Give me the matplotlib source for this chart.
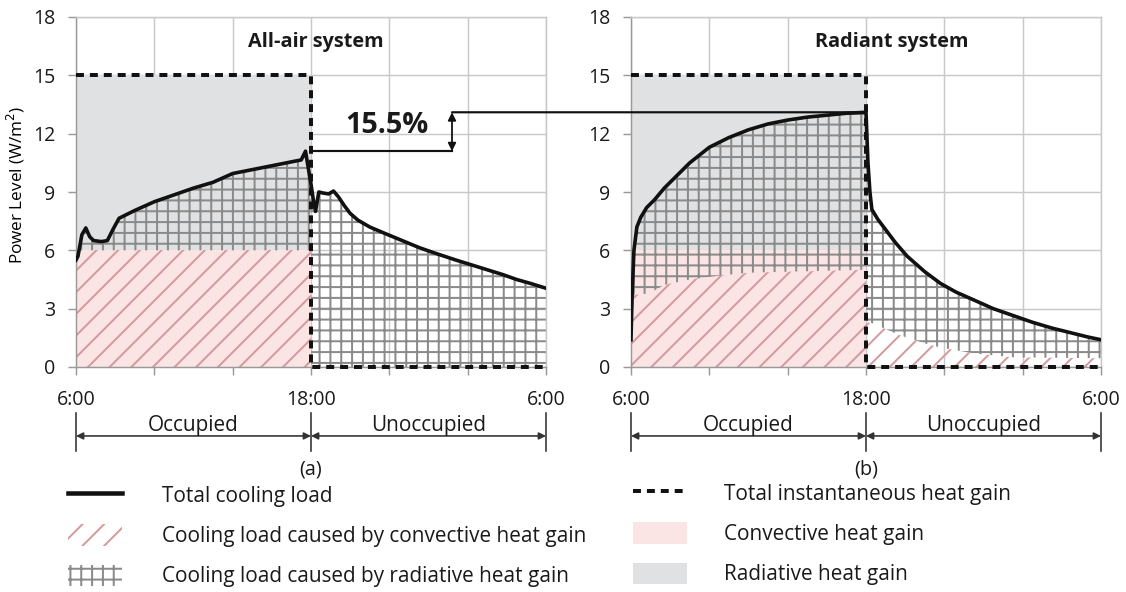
import numpy as np
import matplotlib
matplotlib.use('Agg')
import matplotlib.pyplot as plt
from matplotlib.patches import Patch, ConnectionPatch
from matplotlib.lines import Line2D

plt.rcParams['font.family'] = ['Open Sans', 'DejaVu Sans']
plt.rcParams['hatch.linewidth'] = 1.1
plt.rcParams['text.color'] = '#1a1a1a'

# hours, 6:00 -> 6:00 next day (30)
gain_h = [6, 18, 18, 30]
gain_total = [15, 15, 0, 0]
gain_conv = [6, 6, 0, 0]

# all-air system: total cooling load
air_occ_h = [6.0, 6.1, 6.3, 6.5, 6.7, 6.9, 7.3, 7.6, 7.9, 8.2, 9.0, 10.0, 11.0,
             12.0, 13.0, 14.0, 15.0, 16.0, 17.0, 17.5, 17.72, 17.85, 18.0]
air_occ_load = [5.5, 5.7, 6.8, 7.15, 6.7, 6.5, 6.45, 6.5, 7.1, 7.65, 8.05, 8.5,
                8.85, 9.2, 9.5, 9.95, 10.15, 10.35, 10.55, 10.65, 11.1, 10.3, 9.4]
air_un_h = [18.0, 18.12, 18.23, 18.4, 18.6, 18.9, 19.15, 19.4, 19.7, 20.0, 20.4,
            21.0, 21.7, 22.3, 22.9, 23.5, 24.2, 24.8, 25.4, 26.2, 27.0, 27.8,
            28.5, 29.2, 30.0]
air_un_load = [9.4, 8.6, 8.0, 9.0, 8.95, 8.9, 9.05, 8.75, 8.3, 7.9, 7.55, 7.2,
               6.9, 6.65, 6.4, 6.15, 5.9, 5.7, 5.5, 5.25, 5.0, 4.75, 4.5, 4.3, 4.05]
# all-air: cooling load from convective gain
air_conv_occ_h = [6, 18]
air_conv_occ = [6, 6]
air_conv_un_h = [18, 30]
air_conv_un = [0, 0]

# radiant system: total cooling load
rad_occ_h = [6.0, 6.05, 6.15, 6.3, 6.5, 6.8, 7.2, 7.7, 8.3, 9.0, 10.0, 11.0,
             12.0, 13.0, 14.0, 15.0, 16.0, 17.0, 18.0]
rad_occ_load = [1.4, 3.5, 6.0, 7.2, 7.7, 8.2, 8.6, 9.2, 9.8, 10.5, 11.3, 11.8,
                12.2, 12.5, 12.7, 12.85, 12.95, 13.05, 13.1]
rad_un_h = [18.0, 18.1, 18.2, 18.3, 18.6, 18.9, 19.5, 20.1, 21.0, 21.8, 22.6,
            23.5, 24.5, 25.5, 26.5, 27.5, 28.5, 29.3, 30.0]
rad_un_load = [13.1, 10.5, 9.0, 8.1, 7.6, 7.2, 6.4, 5.7, 4.9, 4.3, 3.85, 3.45,
               3.0, 2.65, 2.3, 2.0, 1.75, 1.55, 1.4]
# radiant: cooling load from convective gain
rad_conv_occ_h = [6.0, 6.05, 6.15, 7.0, 7.6, 9.0, 10.5, 12.0, 14.0, 18.0]
rad_conv_occ = [1.0, 2.0, 3.7, 3.8, 4.2, 4.5, 4.7, 4.85, 4.9, 5.0]
rad_conv_un_h = [18.0, 18.35, 19.0, 19.7, 20.5, 21.8, 23.5, 25.5, 30.0]
rad_conv_un = [2.3, 2.25, 1.95, 1.65, 1.35, 1.0, 0.7, 0.5, 0.45]

xticks = [6, 10, 14, 18, 22, 26, 30]
xlabels = ['6:00', '', '', '18:00', '', '', '6:00']
yticks = [0, 3, 6, 9, 12, 15, 18]
peak_label = '15.5%'

pink = '#fbe4e4'
pink_hatch = '#d49a9e'
gray = '#e0e1e2'
grid_hatch = '#8a8a8a'
dash = (0, (2, 1.5))

fig = plt.figure(figsize=(1126 / 130, 592 / 130), dpi=130)
ax1 = fig.add_axes([76 / 1126, 225 / 592, 470 / 1126, 350 / 592])
ax2 = fig.add_axes([631 / 1126, 225 / 592, 470 / 1126, 350 / 592])


def draw(ax, occ_h, occ_load, un_h, un_load, c_occ_h, c_occ, c_un_h, c_un,
         title, title_x, letter):
    ax.set_xlim(6, 30)
    ax.set_ylim(0, 18)
    ax.set_xticks(xticks)
    ax.set_xticklabels(xlabels)
    ax.set_yticks(yticks)
    ax.grid(color='#c9c9c9', lw=0.8, zorder=0)
    ax.set_axisbelow(True)
    for s in ax.spines.values():
        s.set_color('#c9c9c9')
    ax.spines['left'].set_color('#999999')
    ax.spines['bottom'].set_color('#999999')
    ax.tick_params(colors='#999999', labelcolor='#1a1a1a', labelsize=10.8,
                   length=4.5, width=0.8)
    ax.tick_params(axis='x', pad=8)
    ax.tick_params(axis='y', pad=7)

    ax.fill_between(gain_h, 0, gain_conv, color=pink, lw=0, zorder=1)
    ax.fill_between(gain_h, gain_conv, gain_total, color=gray, lw=0, zorder=1)

    # convective part of cooling load
    ax.fill_between(c_occ_h, 0, c_occ, facecolor='none', edgecolor=pink_hatch,
                    hatch='//', lw=0, zorder=2)
    ax.fill_between(c_un_h, 0, c_un, facecolor='none', edgecolor=pink_hatch,
                    hatch='//', lw=0, zorder=2)
    # radiative part of cooling load
    for hh, ld, ch, cv in [(occ_h, occ_load, c_occ_h, c_occ),
                           (un_h, un_load, c_un_h, c_un)]:
        base = np.interp(hh, ch, cv)
        ax.fill_between(hh, base, np.maximum(ld, base), facecolor='none',
                        edgecolor=grid_hatch, hatch='++', lw=0, zorder=2)

    ax.plot(occ_h + un_h[1:], occ_load + un_load[1:], color='#111111', lw=2,
            zorder=4)
    ax.plot(gain_h, gain_total, color='#111111', lw=2.2, ls=dash, zorder=5,
            clip_on=False)

    ax.text(title_x, 16.7, title, fontsize=11, fontweight='bold',
            ha='center', va='center')

    # occupied / unoccupied brackets
    tr = ax.get_xaxis_transform()
    for x in [6, 18, 30]:
        ax.plot([x, x], [-0.13, -0.24], color='#333333', lw=0.9,
                transform=tr, clip_on=False)
    for a, b, lab in [(6, 18, 'Occupied'), (18, 30, 'Unoccupied')]:
        ax.annotate('', xy=(a, -0.197), xytext=(b, -0.197), xycoords=tr,
                    textcoords=tr,
                    arrowprops=dict(arrowstyle='<|-|>', color='#333333',
                                    lw=0.9, shrinkA=0, shrinkB=0,
                                    mutation_scale=8))
        ax.text((a + b) / 2, -0.166, lab, transform=tr, ha='center',
                va='center', fontsize=11.5)
    ax.text(18, -0.293, letter, transform=tr, ha='center', va='center',
            fontsize=11)


draw(ax1, air_occ_h, air_occ_load, air_un_h, air_un_load, air_conv_occ_h,
     air_conv_occ, air_conv_un_h, air_conv_un, 'All-air system', 18.25, '(a)')
draw(ax2, rad_occ_h, rad_occ_load, rad_un_h, rad_un_load, rad_conv_occ_h,
     rad_conv_occ, rad_conv_un_h, rad_conv_un, 'Radiant system', 19.3, '(b)')

ax1.set_ylabel('Power Level (W/m$^2$)', fontsize=9.5)
ax1.yaxis.set_label_coords(-0.104, 0.52)

# peak comparison annotation
air_peak = max(air_occ_load)
rad_peak = max(rad_occ_load)
arrow_x = 25.2
ax1.plot([18, arrow_x], [air_peak, air_peak], color='#111111', lw=1.2,
         clip_on=False, zorder=6)
ax1.annotate('', xy=(arrow_x, rad_peak), xytext=(arrow_x, air_peak),
             arrowprops=dict(arrowstyle='<|-|>', color='#111111', lw=1,
                             shrinkA=0, shrinkB=0, mutation_scale=9))
con = ConnectionPatch(xyA=(arrow_x, rad_peak), coordsA=ax1.transData,
                      xyB=(18, rad_peak), coordsB=ax2.transData,
                      color='#111111', lw=1.2, zorder=6)
fig.add_artist(con)
ax1.text(21.9, 12.4, peak_label, fontsize=16, fontweight='bold',
         ha='center', va='center')

# legends
h_left = [Line2D([], [], color='#111111', lw=2.5),
          Patch(facecolor='none', edgecolor=pink_hatch, hatch='//', lw=0),
          Patch(facecolor='none', edgecolor=grid_hatch, hatch='++', lw=0)]
l_left = ['Total cooling load',
          'Cooling load caused by convective heat gain',
          'Cooling load caused by radiative heat gain']
h_right = [Line2D([], [], color='#111111', lw=2.2, ls=dash),
           Patch(facecolor=pink, lw=0),
           Patch(facecolor=gray, lw=0)]
l_right = ['Total instantaneous heat gain', 'Convective heat gain',
           'Radiative heat gain']
common = dict(frameon=False, fontsize=11.5, handlelength=2.6, handleheight=1.2,
              labelspacing=0.85, borderpad=0, borderaxespad=0, loc='upper left')
fig.legend(h_left, l_left, bbox_to_anchor=(68 / 1126, 1 - 484 / 592),
           handletextpad=1.92, **common)
fig.legend(h_right, l_right, bbox_to_anchor=(633 / 1126, 1 - 482 / 592),
           handletextpad=1.78, **common)

fig.savefig('out.png', dpi=130)
